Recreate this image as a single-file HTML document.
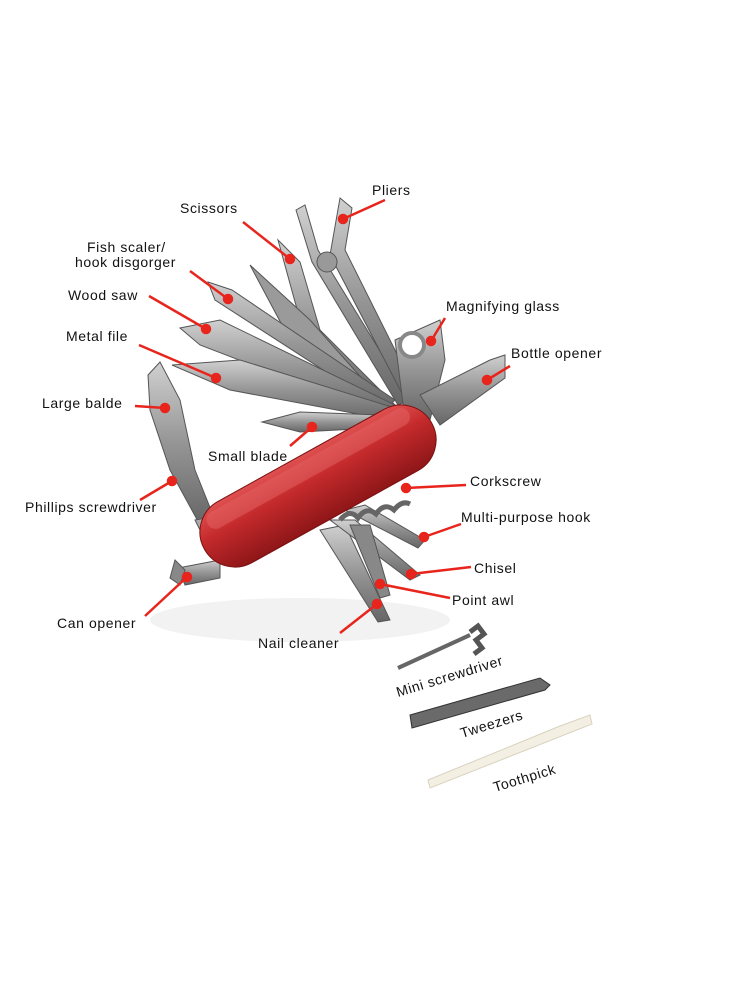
<!DOCTYPE html>
<html><head><meta charset="utf-8"><style>
html,body{margin:0;padding:0;background:#fff;}
svg{display:block}
text{font-family:"Liberation Sans",Arial,sans-serif;font-size:14px;fill:#111;letter-spacing:0.6px}
</style></head><body>
<svg width="730" height="1000" viewBox="0 0 730 1000">
<defs>
<linearGradient id="st" x1="0" y1="0" x2="0" y2="1"><stop offset="0" stop-color="#d0d0d0"/><stop offset="0.5" stop-color="#959595"/><stop offset="1" stop-color="#666"/></linearGradient>
<linearGradient id="rd" x1="0" y1="0" x2="0" y2="1"><stop offset="0" stop-color="#e05050"/><stop offset="0.4" stop-color="#c42a2c"/><stop offset="1" stop-color="#8e1618"/></linearGradient>
</defs>
<rect width="730" height="1000" fill="#fff"/>
<ellipse cx="300" cy="620" rx="150" ry="22" fill="#f2f2f2"/>
<g stroke="#555" stroke-width="1">
<polygon points="296,210 305,205 318,250 410,400 398,405 312,262" fill="url(#st)"/>
<polygon points="340,198 352,208 345,250 420,400 408,405 330,255" fill="url(#st)"/>
<circle cx="327" cy="262" r="10" fill="#999"/>
<polygon points="278,240 300,262 320,330 395,405 385,410 300,320" fill="url(#st)"/>
<polygon points="250,265 310,320 390,410 380,414 290,340" fill="#9a9a9a"/>
<polygon points="208,282 232,290 395,400 385,410 215,300" fill="url(#st)"/>
<polygon points="180,328 220,320 395,405 385,416 200,345" fill="url(#st)"/>
<polygon points="172,365 240,360 395,408 390,420 230,390" fill="url(#st)"/>
<polygon points="395,340 440,320 445,360 430,420 405,420" fill="url(#st)"/>
<circle cx="412" cy="345" r="12" fill="#fff" stroke="#888" stroke-width="4"/>
<polygon points="420,395 490,360 505,355 505,378 440,425" fill="url(#st)"/>
<polygon points="262,422 300,412 380,415 375,428 300,432" fill="url(#st)"/>
<polygon points="148,375 160,362 180,400 195,470 215,520 200,525 170,470 150,410" fill="url(#st)"/>
<polygon points="195,520 240,512 240,530 205,540" fill="#aaa"/>
<polygon points="178,568 220,560 220,578 185,585" fill="url(#st)"/>
<polygon points="175,560 185,570 180,585 170,578" fill="#888"/>
<polygon points="320,530 345,525 390,620 378,622" fill="url(#st)"/>
<polygon points="330,520 355,520 420,575 410,580" fill="url(#st)"/>
<polygon points="345,510 365,505 425,540 418,548" fill="url(#st)"/>
<polygon points="350,525 370,525 390,595 380,598" fill="#888"/>
</g>
<path d="M340,520 q10,-12 18,-2 q8,-12 18,-4 q8,-12 18,-4 q8,-10 16,-6" fill="none" stroke="#666" stroke-width="5"/>
<g transform="translate(318,486) rotate(-29)">
<rect x="-130" y="-35" width="260" height="70" rx="35" fill="url(#rd)" stroke="#7a1010"/>
<rect x="-115" y="-29" width="230" height="18" rx="9" fill="#e46464" opacity="0.5"/>
</g>
<g stroke="#333">
<line x1="398" y1="668" x2="470" y2="635" stroke="#666" stroke-width="4"/>
<path d="M470,632 l8,-6 l6,8 l-8,6 l6,8 l-8,6" fill="none" stroke="#555" stroke-width="5"/>
<polygon points="410,715 540,678 550,685 545,690 412,728" fill="#6a6a6a"/>
<polygon points="428,780 560,726 590,715 592,724 430,788" fill="#f3efe2" stroke="#d8d2c0"/>
</g>
<g stroke="#e8251c" stroke-width="2.5" fill="#e8251c">
<line x1="385" y1="200" x2="343" y2="219"/><circle cx="343" cy="219" r="4"/>
<line x1="243" y1="222" x2="290" y2="259"/><circle cx="290" cy="259" r="4"/>
<line x1="190" y1="271" x2="228" y2="299"/><circle cx="228" cy="299" r="4"/>
<line x1="149" y1="296" x2="206" y2="329"/><circle cx="206" cy="329" r="4"/>
<line x1="139" y1="345" x2="216" y2="378"/><circle cx="216" cy="378" r="4"/>
<line x1="135" y1="406" x2="165" y2="408"/><circle cx="165" cy="408" r="4"/>
<line x1="140" y1="500" x2="172" y2="481"/><circle cx="172" cy="481" r="4"/>
<line x1="145" y1="616" x2="187" y2="577"/><circle cx="187" cy="577" r="4"/>
<line x1="445" y1="318" x2="431" y2="341"/><circle cx="431" cy="341" r="4"/>
<line x1="510" y1="366" x2="487" y2="380"/><circle cx="487" cy="380" r="4"/>
<line x1="290" y1="446" x2="312" y2="427"/><circle cx="312" cy="427" r="4"/>
<line x1="466" y1="485" x2="406" y2="488"/><circle cx="406" cy="488" r="4"/>
<line x1="461" y1="524" x2="424" y2="537"/><circle cx="424" cy="537" r="4"/>
<line x1="471" y1="567" x2="411" y2="574"/><circle cx="411" cy="574" r="4"/>
<line x1="450" y1="598" x2="380" y2="584"/><circle cx="380" cy="584" r="4"/>
<line x1="340" y1="633" x2="377" y2="604"/><circle cx="377" cy="604" r="4"/>
</g>
<text x="372" y="195">Pliers</text>
<text x="180" y="213">Scissors</text>
<text x="87" y="252">Fish scaler/</text>
<text x="75" y="267">hook disgorger</text>
<text x="68" y="300">Wood saw</text>
<text x="66" y="341">Metal file</text>
<text x="42" y="408">Large balde</text>
<text x="25" y="512">Phillips screwdriver</text>
<text x="57" y="628">Can opener</text>
<text x="446" y="311">Magnifying glass</text>
<text x="511" y="358">Bottle opener</text>
<text x="208" y="461">Small blade</text>
<text x="470" y="486">Corkscrew</text>
<text x="461" y="522">Multi-purpose hook</text>
<text x="474" y="573">Chisel</text>
<text x="452" y="605">Point awl</text>
<text x="258" y="648">Nail cleaner</text>
<text x="398" y="697" transform="rotate(-17 398 697)">Mini screwdriver</text>
<text x="462" y="738" transform="rotate(-17 462 738)">Tweezers</text>
<text x="495" y="792" transform="rotate(-17 495 792)">Toothpick</text>
</svg>
</body></html>
